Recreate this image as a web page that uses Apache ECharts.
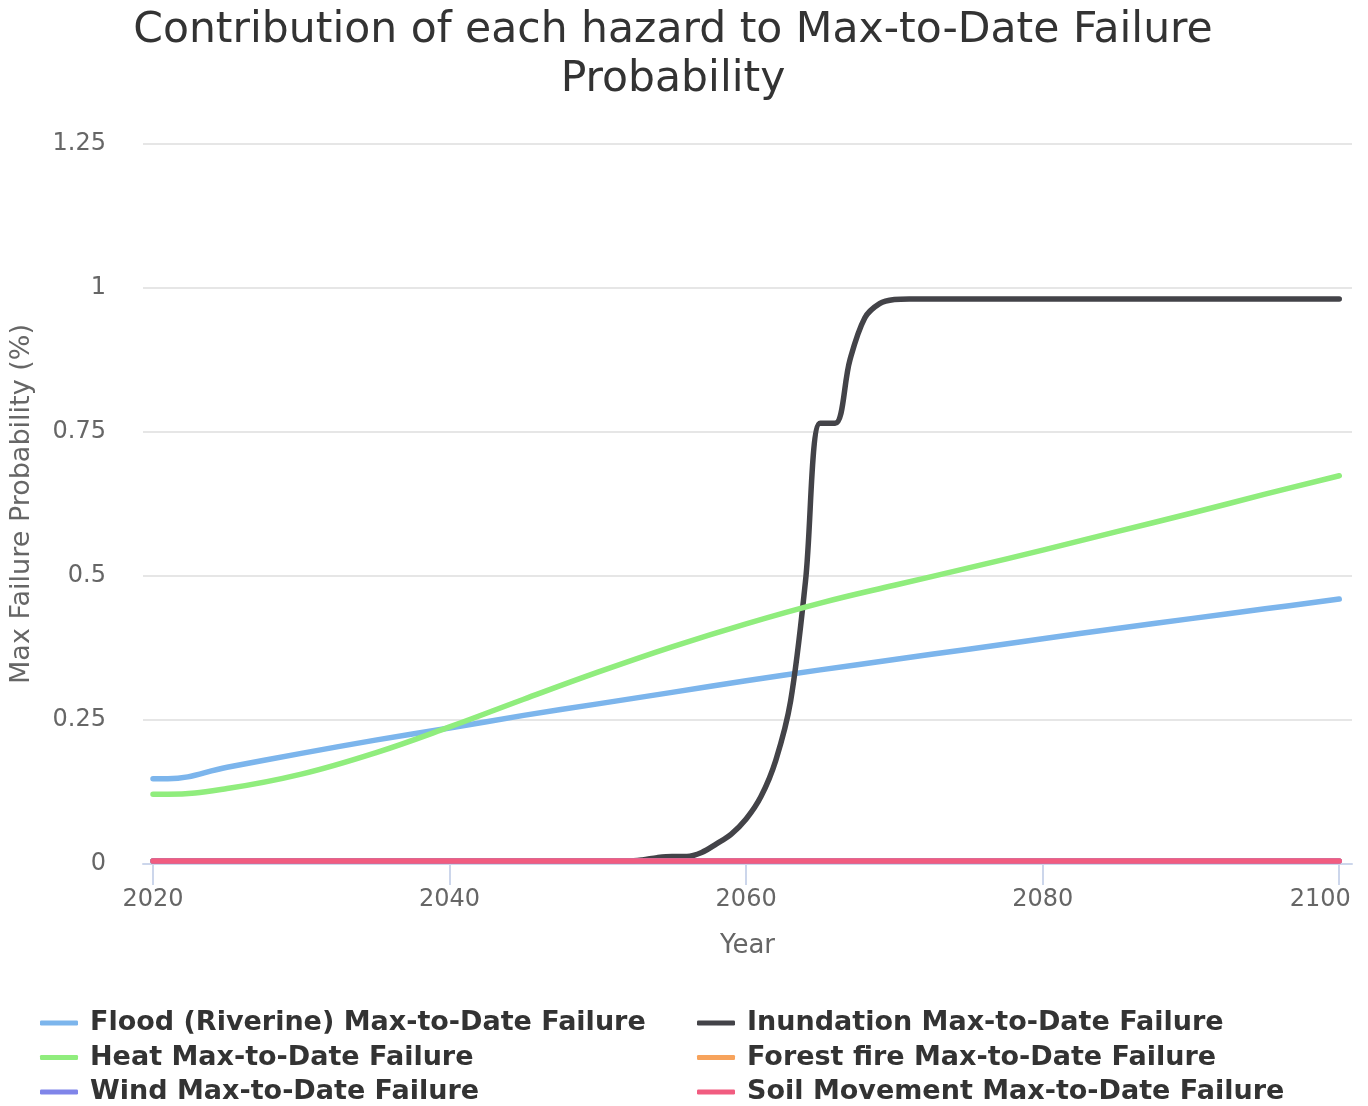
<!DOCTYPE html>
<html>
<head>
<meta charset="utf-8">
<title>Max-to-Date Failure Probability</title>
<script src="https://cdn.jsdelivr.net/npm/echarts@6/dist/echarts.min.js"></script>
<style>
  html, body { margin: 0; padding: 0; background: #fff; }
  #container { width: 1368px; height: 1106px; }
</style>
</head>
<body>
<div id="container"></div>
<script>
var tickYears = [2020, 2040, 2060, 2080, 2100];

var floodYears = [2020, 2021, 2025, 2030, 2035, 2040, 2045, 2050, 2055, 2060, 2065, 2070, 2075, 2080, 2085, 2090, 2095, 2100];
var floodValues = [0.148, 0.148, 0.168, 0.192, 0.215, 0.236, 0.258, 0.278, 0.298, 0.318, 0.337, 0.355, 0.373, 0.391, 0.409, 0.426, 0.443, 0.460];

var heatYears = [2020, 2021, 2025, 2030, 2035, 2040, 2045, 2050, 2055, 2060, 2065, 2070, 2075, 2080, 2085, 2090, 2095, 2100];
var heatValues = [0.121, 0.121, 0.131, 0.156, 0.193, 0.238, 0.286, 0.333, 0.377, 0.417, 0.453, 0.484, 0.514, 0.545, 0.577, 0.609, 0.642, 0.674];

var inundationYears = [2020, 2052, 2053, 2054, 2055, 2056, 2057, 2058, 2059, 2060, 2061, 2062, 2063, 2064, 2065, 2066, 2067, 2068, 2069, 2070, 2071, 2100];
var inundationValues = [0.005, 0.005, 0.007, 0.011, 0.013, 0.013, 0.02, 0.035, 0.052, 0.078, 0.117, 0.18, 0.283, 0.49, 0.765, 0.765, 0.875, 0.948, 0.973, 0.98, 0.981, 0.981];

var flatYears = [2020, 2100];
var forestFireValues = [0.005, 0.005];
var windValues = [0.005, 0.005];
var soilValues = [0.005, 0.005];

function pairs(xs, ys) {
    var out = [];
    for (var i = 0; i < xs.length; i++) {
        out.push([xs[i], ys[i]]);
    }
    return out;
}

var FONT = 'DejaVu Sans';

function lineSeries(name, color, xs, ys, smooth) {
    return {
        name: name,
        type: 'line',
        data: pairs(xs, ys),
        showSymbol: false,
        symbol: 'none',
        smooth: smooth,
        color: color,
        lineStyle: { width: 5.5, color: color, cap: 'round', join: 'round' }
    };
}

var dom = document.getElementById('container');
var myChart = echarts.init(dom);

var legendText = { color: '#333333', fontSize: 27, fontWeight: 'bold', fontFamily: FONT, lineHeight: 34, padding: [0, 0, 0, 7] };

var option = {
    animation: false,
    backgroundColor: '#ffffff',
    title: {
        text: 'Contribution of each hazard to Max-to-Date Failure\nProbability',
        left: 668,
        top: 1,
        textAlign: 'center',
        textStyle: { color: '#333333', fontSize: 42.5, fontWeight: 'normal', fontFamily: FONT, lineHeight: 49 }
    },
    grid: { left: 143, right: 16, top: 144, bottom: 242, containLabel: false, outerBoundsMode: 'none' },
    legend: [
        {
            orient: 'vertical', left: 35, top: 1001, height: 120, itemWidth: 38, itemHeight: 5, itemGap: 0.5,
            icon: 'roundRect',
            data: ['Flood (Riverine) Max-to-Date Failure', 'Heat Max-to-Date Failure', 'Wind Max-to-Date Failure'],
            textStyle: legendText
        },
        {
            orient: 'vertical', left: 692, top: 1001, height: 120, itemWidth: 38, itemHeight: 5, itemGap: 0.5,
            icon: 'roundRect',
            data: ['Inundation Max-to-Date Failure', 'Forest fire Max-to-Date Failure', 'Soil Movement Max-to-Date Failure'],
            textStyle: legendText
        }
    ],
    xAxis: {
        type: 'value',
        min: 2019.325,
        max: 2100.86,
        name: 'Year',
        nameLocation: 'middle',
        nameGap: 69,
        nameTextStyle: { color: '#666666', fontSize: 26, fontFamily: FONT },
        axisLine: { show: true, lineStyle: { color: '#ccd6eb', width: 2 } },
        axisTick: { show: true, length: 21, lineStyle: { color: '#ccd6eb', width: 2 }, customValues: tickYears },
        axisLabel: {
            customValues: tickYears,
            margin: 24,
            color: '#666666',
            fontSize: 24,
            fontFamily: FONT,
            formatter: function (v) {
                // last label is pushed inward like the original
                return v === 2100 ? '2100     ' : String(v);
            }
        },
        splitLine: { show: false }
    },
    yAxis: {
        type: 'value',
        min: 0,
        max: 1.25,
        interval: 0.25,
        name: 'Max Failure Probability (%)',
        nameLocation: 'middle',
        nameGap: 108,
        nameTextStyle: { color: '#666666', fontSize: 27, fontFamily: FONT },
        axisLine: { show: false },
        axisTick: { show: false },
        axisLabel: { margin: 37, color: '#666666', fontSize: 24, fontFamily: FONT },
        splitLine: { lineStyle: { color: '#e6e6e6', width: 2 } }
    },
    series: [
        lineSeries('Flood (Riverine) Max-to-Date Failure', '#7cb5ec', floodYears, floodValues, 0.4),
        lineSeries('Inundation Max-to-Date Failure', '#434348', inundationYears, inundationValues, 0.35),
        lineSeries('Heat Max-to-Date Failure', '#90ed7d', heatYears, heatValues, 0.4),
        lineSeries('Forest fire Max-to-Date Failure', '#f7a35c', flatYears, forestFireValues, false),
        lineSeries('Wind Max-to-Date Failure', '#8085e9', flatYears, windValues, false),
        lineSeries('Soil Movement Max-to-Date Failure', '#f15c80', flatYears, soilValues, false)
    ]
};

if (option && typeof option === 'object') {
    myChart.setOption(option, true);
}
</script>
</body>
</html>
